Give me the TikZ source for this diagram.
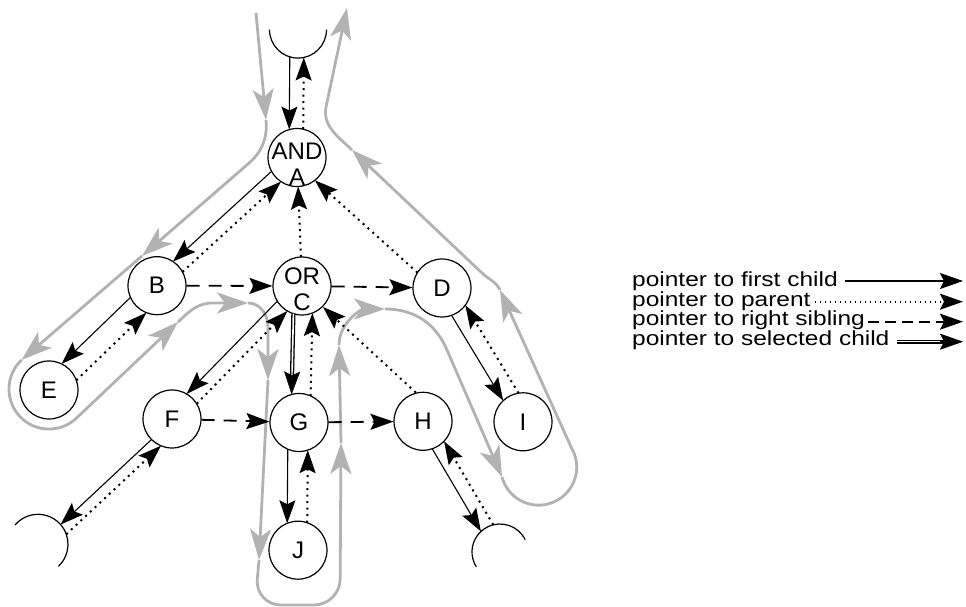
\documentclass[tikz,border=0pt]{standalone}
\usepackage{fontspec}
\setmainfont{Liberation Sans}
\newfontfamily\legendfont[FakeStretch=1.2]{Liberation Sans}
\usetikzlibrary{arrows.meta,calc}

\definecolor{tourgray}{RGB}{178,178,178}

\tikzset{
  vtx/.style={circle, draw, line width=1.2pt, minimum size=58pt, inner sep=0pt,
    font=\fontsize{24}{25}\selectfont},
  lbl/.style={inner sep=0pt, anchor=base, font=\fontsize{24}{25}\selectfont},
  ptrtip/.style={arrows={-Stealth[length=23pt 0 0,width=16pt 0 0,inset=4pt 0 0]}},
  childptr/.style={ptrtip, line width=1.1pt},
  parentptr/.style={ptrtip, line width=2pt, dash pattern=on 2pt off 4.5pt},
  sibptr/.style={ptrtip, line width=1.8pt, dash pattern=on 13pt off 9pt},
  selline/.style={line width=1.3pt, double, double distance=1.6pt},
  seltip/.style={ptrtip, line width=0.4pt},
  legparent/.style={ptrtip, line width=1.8pt, dash pattern=on 1.8pt off 3.2pt},
  legsib/.style={ptrtip, line width=1.8pt, dash pattern=on 11pt off 6pt},
  tour/.style={draw=tourgray, line width=2.8pt,
    arrows={-Stealth[length=31pt 0 0,width=21pt 0 0,inset=8pt 0 0]}},
  legtxt/.style={inner sep=0pt, anchor=base west,
    font=\legendfont\fontsize{20.4}{22}\selectfont},
}

% straight pointer between two nodes, shifted sideways by #4 (pt),
% clipped to circles of radius #5 (start) and #6 (end)
\newcommand\ptr[6]{%
  \pgfmathsetmacro\shA{sqrt((#5)*(#5)-(#4)*(#4))}%
  \pgfmathsetmacro\shB{sqrt((#6)*(#6)-(#4)*(#4))}%
  \draw[#1, shorten <=\shA pt, shorten >=\shB pt]
    ($(#2.center)!#4pt!90:(#3.center)$) -- ($(#3.center)!#4pt!-90:(#2.center)$);%
}
% first-child pointer plus the returning parent pointer
\newcommand\pair[6]{%
  \ptr{childptr}{#1}{#2}{#3}{#5}{#6}%
  \pgfmathsetmacro\offB{-(#4)}%
  \ptr{parentptr}{#2}{#1}{\offB}{#6}{#5}%
}
% selected-child pointer (double line)
\newcommand\selptr[5]{%
  \pgfmathsetmacro\shA{sqrt((#4)*(#4)-(#3)*(#3))}%
  \pgfmathsetmacro\shB{sqrt((#5)*(#5)-(#3)*(#3))}%
  \path ($(#1.center)!#3pt!90:(#2.center)$) coordinate (selA)
        ($(#2.center)!#3pt!-90:(#1.center)$) coordinate (selB);
  \path ($(selA)!\shA pt!(selB)$) coordinate (selS)
        ($(selB)!\shB pt!(selA)$) coordinate (selE);
  \draw[selline] (selS) -- ($(selE)!16pt!(selS)$);
  \draw[seltip] ($(selE)!23pt!(selS)$) -- (selE);%
}

\begin{document}
\begin{tikzpicture}[x=1pt,y=1pt]
\useasboundingbox (0,0) rectangle (966,607);

% ---------- traversal path ----------
\draw[tour] (256,594) -- (266,487);
\draw[tour] (266,487) to[out=-85,in=40.8] (248,443) -- (142,351);
\draw[tour] (142,351) -- (21.5,247);
\draw[tour] (21.5,247) arc[start angle=133.4,end angle=313.4,radius=40pt] -- (178,285);
\draw[tour] (178,285) to[out=43.4,in=180] (213,304) -- (248,304);
\draw[tour] (248,304) to[out=0,in=90] (268,280) -- (268,227);
\draw[tour] (268,227) -- (259,47);
\draw[tour, rounded corners=26pt] (259,47) -- (255,2) -- (340,2) -- (341,164);
\draw[tour] (341,164) -- (339,262);
\draw[tour] (339,262) to[out=90,in=180] (385,298);
\draw[tour] (385,298) to[out=0,in=113] (447,257) -- (502,130);
\draw[tour] (502,130) arc[start angle=195,end angle=390,radius=38pt] -- (500,317);
\draw[tour] (500,317) to[out=115,in=-44] (482,334) -- (352,457);
\draw[tour] (352,457) to[out=136,in=-100] (326,500) -- (347,599);

% ---------- tree nodes ----------
\node[vtx] (A) at (297,449.5) {};
\node[lbl] (Aop) at ($(A.center)+(0,-2)$) {AND};
\node[lbl] (Aname) at ($(A.center)+(0,-28.5)$) {A};
\node[vtx] (B) at (157,321.3) {B};
\node[vtx] (C) at (302,321) {};
\node[lbl] (Cop) at ($(C.center)+(0,1.5)$) {OR};
\node[lbl] (Cname) at ($(C.center)+(0,-25)$) {C};
\node[vtx] (D) at (442,319) {D};
\node[vtx] (E) at (49,217) {E};
\node[vtx] (F) at (172,188) {F};
\node[vtx] (G) at (299,184.5) {G};
\node[vtx] (H) at (423,185.7) {H};
\node[vtx] (I) at (523,185.2) {I};
\node[vtx] (J) at (298,56.8) {J};

% open sub-trees (half circles)
\coordinate (topc) at (298,577.4);
\coordinate (blc) at (38,62.7);
\coordinate (brc) at (500,55);
\draw[line width=1.2pt] (topc) ++(180:28.5) arc[start angle=180,end angle=360,radius=28.5pt];
\draw[line width=1.2pt] (blc) ++(-47:30) arc[start angle=-47,end angle=140,radius=30pt];
\draw[line width=1.2pt] (brc) ++(26:28) arc[start angle=26,end angle=212,radius=28pt];

% ---------- first-child / parent pointers ----------
\pair{topc}{A}{-8}{6}{28.5}{29}
\pair{A}{B}{-7}{7}{29}{29}
\pair{B}{E}{-10}{12}{29}{29}
\pair{C}{F}{-7}{7}{29}{29}
\pair{D}{I}{-6}{11}{29}{29}
\pair{F}{blc}{1}{12}{29}{30}
\pair{G}{J}{-11}{9}{29}{29}
\pair{H}{brc}{-6}{8}{29}{28}

% selected child of C and its parent pointer
\selptr{C}{G}{-8}{29}{29}
\ptr{parentptr}{G}{C}{-11}{29}{29}

% remaining parent pointers
\ptr{parentptr}{C}{A}{0}{29}{29}
\ptr{parentptr}{D}{A}{5}{29}{29}
\draw[parentptr] (H.104) -- (C.-45);

% ---------- right-sibling pointers ----------
\draw[sibptr] (B) -- (C);
\draw[sibptr] (C) -- (D);
\draw[sibptr] (F) -- (G);
\draw[sibptr] (G) -- (H);

% ---------- legend ----------
\node[legtxt] (L1) at (632,320) {pointer to first child};
\node[legtxt] (L2) at (632,300.3) {pointer to parent};
\node[legtxt] (L3) at (632,281) {pointer to right sibling};
\node[legtxt] (L4) at (632,261) {pointer to selected child};
\coordinate (L1e) at (963,326);
\coordinate (L2e) at (963,305.3);
\coordinate (L3e) at (963,285.3);
\coordinate (L4e) at (963,265.3);
\draw[childptr] ($(L1e -| L1.east)+(7pt,0)$) -- (L1e);
\draw[legparent] ($(L2e -| L2.east)+(4pt,0)$) -- (L2e);
\draw[legsib] ($(L3e -| L3.east)+(3pt,0)$) -- (L3e);
\draw[selline] ($(L4e -| L4.east)+(7pt,0)$) -- ($(L4e)+(-16pt,0)$);
\draw[seltip] ($(L4e)+(-23pt,0)$) -- (L4e);
\end{tikzpicture}
\end{document}
